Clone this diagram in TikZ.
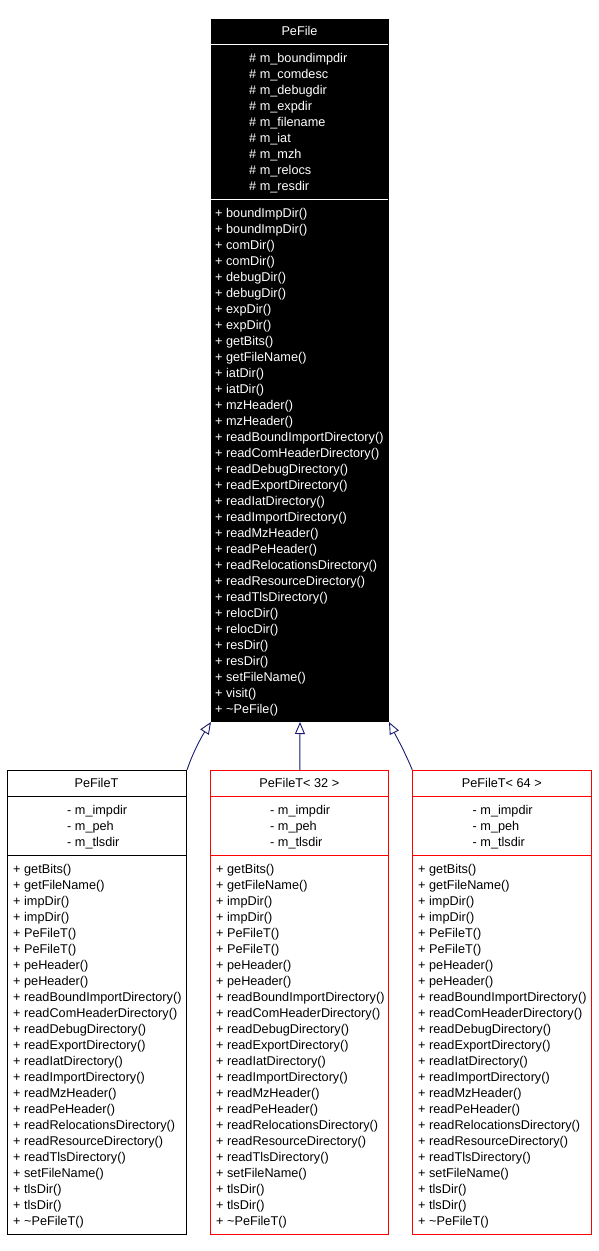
\documentclass[tikz,border=0pt]{standalone}
\usepackage{fontspec}
\setmainfont{Liberation Sans}
\usetikzlibrary{arrows.meta}
\definecolor{edgeblue}{HTML}{191970}
\definecolor{umlred}{HTML}{FF0000}
\tikzset{
  box/.style={draw, line width=1pt, anchor=north west, inner sep=0pt, minimum width=#1},
  sec/.style={line width=1pt},
  txt/.style={inner sep=0pt, font=\fontsize{12.7}{16}\selectfont},
  inherit/.style={draw=edgeblue, line width=0.9pt, -{Triangle[open, length=12pt, width=10pt, fill=white]}},
}
% #1 name prefix, #2 x, #3 first baseline y, #4 colour, #5 list macro
\newcommand{\linesat}[5]{%
  \foreach \t [count=\i] in #5 {
    \node[txt, #4, anchor=base west] (#1-\i) at (#2, #3+16*\i-16) {\t};
  }%
}
\newcommand{\attrsP}{{\# m\_boundimpdir},{\# m\_comdesc},{\# m\_debugdir},{\# m\_expdir},{\# m\_filename},{\# m\_iat},{\# m\_mzh},{\# m\_relocs},{\# m\_resdir}}
\newcommand{\methodsP}{{+ boundImpDir()},{+ boundImpDir()},{+ comDir()},{+ comDir()},{+ debugDir()},{+ debugDir()},{+ expDir()},{+ expDir()},{+ getBits()},{+ getFileName()},{+ iatDir()},{+ iatDir()},{+ mzHeader()},{+ mzHeader()},{+ readBoundImportDirectory()},{+ readComHeaderDirectory()},{+ readDebugDirectory()},{+ readExportDirectory()},{+ readIatDirectory()},{+ readImportDirectory()},{+ readMzHeader()},{+ readPeHeader()},{+ readRelocationsDirectory()},{+ readResourceDirectory()},{+ readTlsDirectory()},{+ relocDir()},{+ relocDir()},{+ resDir()},{+ resDir()},{+ setFileName()},{+ visit()},{+ \textasciitilde PeFile()}}
\newcommand{\methodsT}{{+ getBits()},{+ getFileName()},{+ impDir()},{+ impDir()},{+ PeFileT()},{+ PeFileT()},{+ peHeader()},{+ peHeader()},{+ readBoundImportDirectory()},{+ readComHeaderDirectory()},{+ readDebugDirectory()},{+ readExportDirectory()},{+ readIatDirectory()},{+ readImportDirectory()},{+ readMzHeader()},{+ readPeHeader()},{+ readRelocationsDirectory()},{+ readResourceDirectory()},{+ readTlsDirectory()},{+ setFileName()},{+ tlsDir()},{+ tlsDir()},{+ \textasciitilde PeFileT()}}
\newcommand{\attrsT}{{- m\_impdir},{- m\_peh},{- m\_tlsdir}}
\begin{document}
\begin{tikzpicture}[x=1pt, y=-1pt]
\useasboundingbox (0,0) rectangle (598,1251);
% ---- PeFile ----
\node[box=177pt, minimum height=702pt, fill=black] (pefile) at (211,19) {};
\draw[sec, white] (211,44) -- (388,44);
\draw[sec, white] (211,199) -- (388,199);
\node[txt, white, anchor=base] (pftitle) at (299.5,35.5) {PeFile};
\linesat{pfa}{249}{62.5}{white}{\attrsP}
\linesat{pfm}{215}{217.5}{white}{\methodsP}
% ---- PeFileT ----
\node[box=179pt, minimum height=464pt] (pft) at (7,770) {};
\draw[sec] (7,796) -- (186,796);
\draw[sec] (7,855) -- (186,855);
\node[txt, anchor=base] (pfttitle) at (96.5,787.5) {PeFileT};
\linesat{pfta}{67}{814.5}{black}{\attrsT}
\linesat{pftm}{13}{873.5}{black}{\methodsT}
% ---- PeFileT<32> ----
\node[box=178pt, minimum height=464pt, draw=umlred] (pft32) at (210.3,770) {};
\draw[sec, umlred] (210.3,796) -- (388.3,796);
\draw[sec, umlred] (210.3,855) -- (388.3,855);
\node[txt, anchor=base] (pft32title) at (299.3,787.5) {PeFileT< 32 >};
\linesat{pft32a}{270}{814.5}{black}{\attrsT}
\linesat{pft32m}{216}{873.5}{black}{\methodsT}
% ---- PeFileT<64> ----
\node[box=179pt, minimum height=464pt, draw=umlred] (pft64) at (412.3,770) {};
\draw[sec, umlred] (412.3,796) -- (591.3,796);
\draw[sec, umlred] (412.3,855) -- (591.3,855);
\node[txt, anchor=base] (pft64title) at (501.8,787.5) {PeFileT< 64 >};
\linesat{pft64a}{472.5}{814.5}{black}{\attrsT}
\linesat{pft64m}{418}{873.5}{black}{\methodsT}
% ---- inheritance ----
\draw[inherit] (pft.north east) .. controls (193,752) and (202,736) .. (pefile.south west);
\draw[inherit] (pft32.north) -- (pefile.south);
\draw[inherit] (pft64.north west) .. controls (405,752) and (396,736) .. (pefile.south east);
\end{tikzpicture}
\end{document}
